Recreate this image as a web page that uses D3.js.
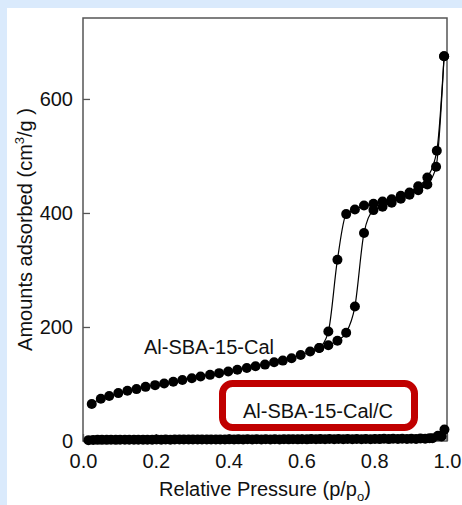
<!DOCTYPE html>
<html>
<head>
<meta charset="utf-8">
<script src="https://cdn.jsdelivr.net/npm/d3@7"></script>
<style>
  html, body { margin: 0; padding: 0; background: #daeafc; }
  svg { display: block; }
  text { font-family: "Liberation Sans", Arial, sans-serif; fill: #111; }
</style>
</head>
<body>
<svg id="iso-svg"></svg>
<script>
// Al-SBA-15-Cal, adsorption branch
var calAdsP = [0.024, 0.049, 0.072, 0.097, 0.122, 0.147, 0.172, 0.198, 0.223, 0.248,
               0.273, 0.299, 0.323, 0.349, 0.374, 0.399, 0.424, 0.45, 0.474, 0.5,
               0.525, 0.549, 0.573, 0.598, 0.624, 0.649, 0.674, 0.699, 0.723, 0.747,
               0.772, 0.798, 0.823, 0.848, 0.873, 0.897, 0.921, 0.946, 0.97, 0.992];
var calAdsV = [65, 74, 79, 84, 88, 91, 95, 98, 101, 104,
               107, 110, 113, 116, 119, 122, 125, 128, 131, 134,
               138, 141, 145, 151, 157, 163, 168, 176, 190, 236,
               365, 405, 411, 418, 425, 432, 440, 450, 481, 675];
// Al-SBA-15-Cal, desorption branch
var calDesP = [0.992, 0.972, 0.946, 0.921, 0.897, 0.873, 0.848, 0.823, 0.798, 0.772,
               0.747, 0.723, 0.699, 0.674, 0.649];
var calDesV = [675, 509, 462, 447, 436, 430, 424, 420, 416, 413,
               406, 398, 318, 192, 163];
// Al-SBA-15-Cal/C
var cAdsP = [0.015, 0.04, 0.065, 0.09, 0.115, 0.14, 0.165, 0.19, 0.215, 0.24,
             0.265, 0.29, 0.315, 0.34, 0.365, 0.39, 0.415, 0.44, 0.465, 0.49,
             0.515, 0.54, 0.565, 0.59, 0.615, 0.64, 0.665, 0.69, 0.715, 0.74,
             0.765, 0.79, 0.815, 0.84, 0.865, 0.89, 0.915, 0.94, 0.96, 0.975, 0.993];
var cAdsV = [1.5, 2, 2, 2, 2.2, 2.2, 2.3, 2.3, 2.4, 2.4,
             2.5, 2.5, 2.5, 2.6, 2.6, 2.6, 2.7, 2.7, 2.7, 2.8,
             2.8, 2.8, 2.9, 2.9, 2.9, 3, 3, 3, 3.1, 3.1,
             3.2, 3.2, 3.3, 3.3, 3.4, 3.5, 3.7, 4, 5, 9, 20];
var cDesP = [0.985, 0.952, 0.927, 0.902, 0.877, 0.852, 0.827, 0.802, 0.777, 0.752,
             0.727, 0.702, 0.677, 0.652, 0.627, 0.602, 0.577, 0.552, 0.527, 0.502,
             0.477, 0.452, 0.427, 0.402, 0.377, 0.352, 0.327, 0.302, 0.277, 0.252,
             0.227, 0.202, 0.177, 0.152, 0.127, 0.102, 0.077, 0.052, 0.028];
var cDesV = [8, 5, 4.5, 4, 4, 3.8, 3.8, 3.6, 3.6, 3.5,
             3.5, 3.4, 3.4, 3.3, 3.3, 3.2, 3.2, 3.1, 3.1, 3,
             3, 3, 2.9, 2.9, 2.8, 2.8, 2.7, 2.7, 2.6, 2.6,
             2.5, 2.5, 2.4, 2.4, 2.3, 2.2, 2.1, 2, 1.8];

var xTicks = [0, 0.2, 0.4, 0.6, 0.8, 1.0];
var yTicks = [0, 200, 400, 600];

var plt = {
    svg: null,
    width: 462,
    height: 505,
    left: 83, right: 447, top: 18, bottom: 441,

    init: function() {
        this.svg = d3.select('#iso-svg')
            .attr('width', this.width)
            .attr('height', this.height);
        this.x = d3.scaleLinear().domain([0, 1]).range([this.left, this.right]);
        this.y = d3.scaleLinear().domain([0, 742]).range([this.bottom, this.top]);
    },

    zip: function(ps, vs) {
        return ps.map(function(p, i) { return { p: p, v: vs[i] }; });
    },

    series: function(ps, vs) {
        var pts = this.zip(ps, vs);
        var sorted = pts.slice().sort(function(a, b) { return a.p - b.p; });
        var line = d3.line()
            .x(function(d) { return plt.x(d.p); })
            .y(function(d) { return plt.y(d.v); })
            .curve(d3.curveMonotoneX);
        this.svg.append('path')
            .datum(sorted)
            .attr('fill', 'none')
            .attr('stroke', '#000')
            .attr('stroke-width', 1.2)
            .attr('d', line);
        this.svg.append('g').selectAll('circle')
            .data(pts)
            .enter()
            .append('circle')
            .attr('cx', function(d) { return plt.x(d.p); })
            .attr('cy', function(d) { return plt.y(d.v); })
            .attr('r', 5)
            .attr('fill', '#000');
    },

    draw: function() {
        var svg = this.svg;
        // white panel on the blue page
        svg.append('rect')
            .attr('x', 7).attr('y', 8)
            .attr('width', this.width - 7).attr('height', this.height - 8)
            .attr('fill', '#fff');

        // axes, ticks pointing inward
        var xAxis = d3.axisBottom(this.x).tickValues(xTicks)
            .tickFormat(d3.format('.1f')).tickSize(-7).tickPadding(13);
        var yAxis = d3.axisLeft(this.y).tickValues(yTicks)
            .tickSize(-7).tickPadding(10);
        var gx = svg.append('g')
            .attr('transform', 'translate(0,' + this.bottom + ')')
            .call(xAxis);
        var gy = svg.append('g')
            .attr('transform', 'translate(' + this.left + ',0)')
            .call(yAxis);
        [gx, gy].forEach(function(g) {
            g.select('.domain').remove();
            g.selectAll('line').attr('stroke', '#555').attr('stroke-width', 1.3);
            g.selectAll('text').attr('font-size', 20)
                .attr('font-family', '"Liberation Sans", Arial, sans-serif')
                .attr('fill', '#111');
        });

        // frame
        svg.append('rect')
            .attr('x', this.left).attr('y', this.top)
            .attr('width', this.right - this.left)
            .attr('height', this.bottom - this.top)
            .attr('fill', 'none')
            .attr('stroke', '#555')
            .attr('stroke-width', 1.5);

        this.series(calAdsP, calAdsV);
        this.series(calDesP, calDesV);
        this.series(cAdsP, cAdsV);
        this.series(cDesP, cDesV);

        // axis titles
        var xt = svg.append('text')
            .attr('x', (this.left + this.right) / 2)
            .attr('y', 496)
            .attr('text-anchor', 'middle')
            .attr('font-size', 20);
        xt.append('tspan').text('Relative Pressure (p/p');
        xt.append('tspan').attr('font-size', 13).attr('dy', 5).text('o');
        xt.append('tspan').attr('dy', -5).text(')');

        var yt = svg.append('text')
            .attr('transform', 'translate(31.5,' + (this.top + this.bottom) / 2 + ') rotate(-90)')
            .attr('text-anchor', 'middle')
            .attr('font-size', 20);
        yt.append('tspan').text('Amounts adsorbed (cm');
        yt.append('tspan').attr('font-size', 13).attr('dy', -8).text('3');
        yt.append('tspan').attr('dy', 8).text('/g )');

        // series labels
        svg.append('text')
            .attr('x', 144).attr('y', 354)
            .attr('font-size', 20)
            .text('Al-SBA-15-Cal');

        svg.append('rect')
            .attr('x', 222.5).attr('y', 383.5)
            .attr('width', 192).attr('height', 44)
            .attr('rx', 10)
            .attr('fill', '#fff')
            .attr('stroke', '#c00000')
            .attr('stroke-width', 7);
        svg.append('text')
            .attr('x', 318).attr('y', 418)
            .attr('text-anchor', 'middle')
            .attr('font-size', 20)
            .text('Al-SBA-15-Cal/C');
    }
};

plt.init();
plt.draw();
</script>
</body>
</html>
